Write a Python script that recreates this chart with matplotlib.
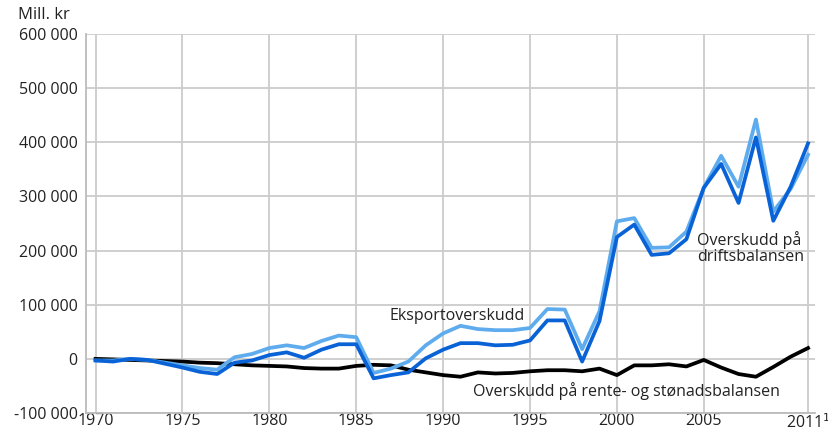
import numpy as np
import matplotlib
matplotlib.use("Agg")
import matplotlib.pyplot as plt

plt.rcParams['font.family'] = ['Open Sans', 'DejaVu Sans']

years = list(range(1970, 2012))
# Eksportoverskudd (mill. kr)
eksport = [-3000, -3000, 0, -2000, -7000, -12000, -17000, -20000, 3000, 9000,
           20000, 25000, 20000, 33000, 43000, 40000, -26000, -18000, -5000, 25000,
           47000, 61000, 55000, 53000, 53000, 57000, 92000, 91000, 18000, 88000,
           254000, 260000, 205000, 206000, 235000, 316000, 375000, 318000, 442000, 272000,
           314000, 377000]
# Overskudd på driftsbalansen
drift = [-3000, -5000, 0, -2000, -9000, -16000, -24000, -28000, -7000, -3000,
         7000, 12000, 2000, 17000, 27000, 27000, -36000, -30000, -25000, 1000,
         17000, 29000, 29000, 25000, 26000, 34000, 71000, 71000, -5000, 70000,
         225000, 248000, 192000, 195000, 221000, 316000, 360000, 288000, 409000, 255000,
         318000, 398000]
# Overskudd på rente- og stønadsbalansen
rente = [0, -1000, -2000, -3000, -4000, -5000, -7000, -8000, -10000, -12000,
         -13000, -14000, -17000, -18000, -18000, -13000, -11000, -12000, -20000, -25000,
         -30000, -33000, -25000, -27000, -26000, -23000, -21000, -21000, -23000, -18000,
         -30000, -12000, -12000, -10000, -14000, -2000, -16000, -28000, -33000, -15000,
         4000, 20000]

fig = plt.figure(figsize=(8.29, 4.34), dpi=100)
ax = fig.add_axes([86 / 829, 21 / 434, 729 / 829, 379 / 434])

ax.plot(years, rente, color="black", lw=2.7, zorder=3)
ax.plot(years, eksport, color="#5eacee", lw=2.7, zorder=4)
ax.plot(years, drift, color="#0a63d6", lw=2.7, zorder=5)

ax.set_xlim(1969.45, 2011.4)
ax.set_ylim(-100000, 600000)
ax.set_xticks([1970, 1975, 1980, 1985, 1990, 1995, 2000, 2005, 2011])
ax.set_xticklabels(["1970", "1975", "1980", "1985", "1990", "1995", "2000", "2005",
                    "2011$^{1}$"])
yt = list(range(-100000, 600001, 100000))
ax.set_yticks(yt)
ax.set_yticklabels([f"{v:,}".replace(",", " ") for v in yt])
ax.tick_params(length=0, labelsize=11.5, colors="#222222")
ax.tick_params(axis="y", pad=6)
ax.tick_params(axis="x", pad=0)
ax.grid(True, color="#cccccc", lw=1.3)
ax.set_axisbelow(True)
for s in ["top", "right"]:
    ax.spines[s].set_visible(False)
for s in ["left", "bottom"]:
    ax.spines[s].set_color("#bbbbbb")
    ax.spines[s].set_linewidth(1.3)

ax.text(1986.9, 79000, "Eksportoverskudd", fontsize=11.5, color="#222222", va="center")
ax.text(2004.6, 205000, "Overskudd på\ndriftsbalansen", fontsize=11.5, color="#222222",
        va="center", linespacing=1.0)
ax.text(1991.7, -60000, "Overskudd på rente- og stønadsbalansen", fontsize=11.5,
        color="#222222", va="center")
fig.text(18 / 829, 1 - 15 / 434, "Mill. kr", fontsize=12, color="#222222", va="center")

fig.savefig("out.png", dpi=100)
